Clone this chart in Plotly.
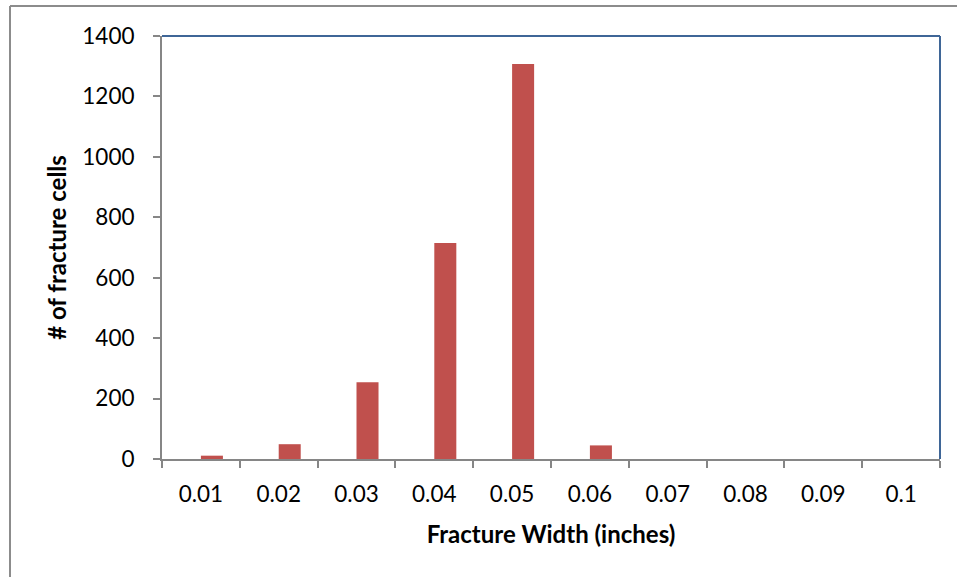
import plotly.graph_objects as go

categories = ["0.01", "0.02", "0.03", "0.04", "0.05", "0.06", "0.07", "0.08", "0.09", "0.1"]
counts = [11, 49, 254, 715, 1307, 45, 0, 0, 0, 0]

x_title = "Fracture Width (inches)"
y_title = "# of fracture cells"

W, H = 957, 577
L, R, T, B = 162, 17, 36, 118
pw, ph = W - L - R, H - T - B

def px(x):
    return (x - L) / pw

def py(y):
    return (H - B - y) / ph

font = "Lato, 'Open Sans', sans-serif"

fig = go.Figure(go.Bar(
    x=categories, y=counts,
    offset=0, width=0.283,
    marker=dict(color="#C0504D", line=dict(width=0)),
))

fig.update_layout(
    width=W, height=H,
    margin=dict(l=L, r=R, t=T, b=B),
    paper_bgcolor="white", plot_bgcolor="white",
    showlegend=False,
    font=dict(family=font, size=22.5, color="black"),
    xaxis=dict(
        type="category",
        range=[-0.5, 9.5],
        tickson="boundaries",
        ticks="outside", ticklen=7, tickcolor="#868686", tickwidth=2,
        showline=True, linecolor="#868686", linewidth=2,
        showgrid=False, zeroline=False,
        ticklabelstandoff=14,
        title=dict(text="<b>" + x_title + "</b>", standoff=20, font=dict(size=24)),
    ),
    yaxis=dict(
        range=[0, 1400], dtick=200,
        ticks="outside", ticklen=7, tickcolor="#868686", tickwidth=2,
        showline=True, linecolor="#868686", linewidth=2,
        showgrid=False, zeroline=False,
        ticklabelstandoff=14,
        title=dict(text="<b>" + y_title + "</b>", standoff=9, font=dict(size=24)),
    ),
    shapes=[
        dict(type="line", xref="paper", yref="paper", x0=0, x1=1, y0=1, y1=1,
             line=dict(color="#3F6697", width=2)),
        dict(type="line", xref="paper", yref="paper", x0=1, x1=1, y0=0, y1=1,
             line=dict(color="#3F6697", width=2)),
        dict(type="line", xref="paper", yref="paper", x0=px(10), x1=px(W + 20), y0=py(6), y1=py(6),
             line=dict(color="#8C8C8C", width=2)),
        dict(type="line", xref="paper", yref="paper", x0=px(10), x1=px(10), y0=py(6), y1=py(H + 20),
             line=dict(color="#8C8C8C", width=2)),
    ],
)

fig.write_html("out.html")
